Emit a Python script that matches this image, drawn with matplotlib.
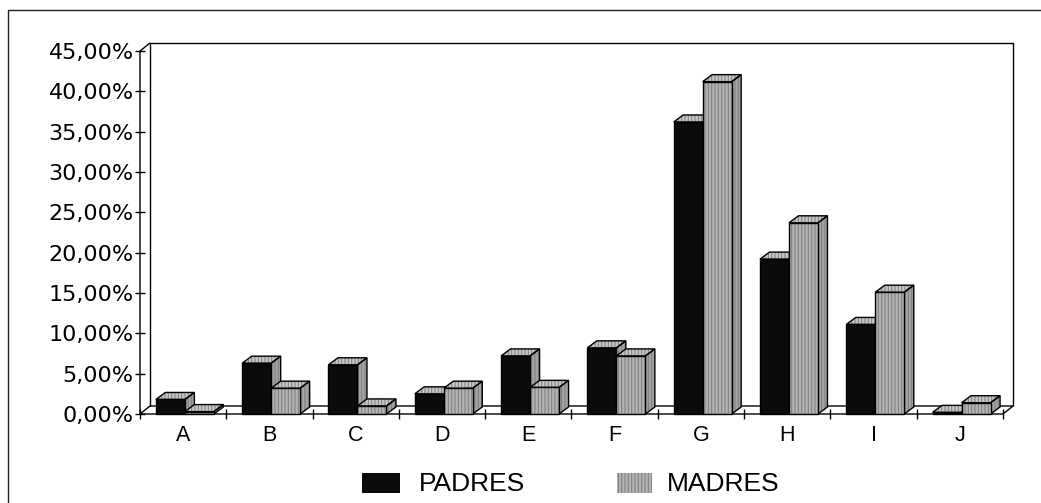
import matplotlib
matplotlib.use("Agg")
import matplotlib.pyplot as plt
from matplotlib.lines import Line2D
from matplotlib.patches import Rectangle

# ---- data ----
categories = ["A", "B", "C", "D", "E", "F", "G", "H", "I", "J"]
padres = [1.8, 6.3, 6.1, 2.5, 7.2, 8.2, 36.2, 19.2, 11.1, 0.2]
madres = [0.3, 3.2, 1.0, 3.2, 3.3, 7.2, 41.2, 23.7, 15.1, 1.4]
yticks = [0, 5, 10, 15, 20, 25, 30, 35, 40, 45]
ytick_labels = ["0,00%", "5,00%", "10,00%", "15,00%", "20,00%", "25,00%",
                "30,00%", "35,00%", "40,00%", "45,00%"]
series_names = ["PADRES", "MADRES"]

plt.rcParams["hatch.linewidth"] = 0.7

W, H = 1041, 503
fig = plt.figure(figsize=(W / 100, H / 100), dpi=100)

# geometry of the pseudo-3D frame (in data units)
DX = 100 / 863          # depth offset of the walls (categories)
DY = 8 * 45 / 363       # depth offset of the walls (%)
BDX = 0.11              # depth offset of bars
BDY = 0.87
BW = 0.336              # bar width
SHIFT = 0.02            # bars sit slightly right of the category centre

left_px, right_px, top_px, base_px = 140, 1013, 43, 414
ax = fig.add_axes([left_px / W, (H - base_px) / H,
                   (right_px - left_px) / W, (base_px - top_px) / H])
n = len(categories)
x0, x1 = -0.5, n - 0.5
ymax = yticks[-1]
ax.set_xlim(x0, x1 + DX)
ax.set_ylim(0, ymax + DY)
for s in ax.spines.values():
    s.set_visible(False)
ax.patch.set_visible(False)

LW = 1.0
kw = dict(color="black", lw=LW, clip_on=False, zorder=1, solid_capstyle="butt")
# back wall
ax.plot([x0 + DX, x0 + DX, x1 + DX, x1 + DX], [DY, ymax + DY, ymax + DY, DY], **kw)
# floor
ax.plot([x0, x1, x1 + DX, x0 + DX, x0], [0, 0, DY, DY, 0], **kw)
# front axis and connecting diagonal at top
ax.plot([x0, x0, x0 + DX], [0, ymax, ymax + DY], **kw)

# ticks
ax.set_yticks(yticks)
ax.set_yticklabels(ytick_labels, fontfamily="DejaVu Sans", fontsize=16)
ax.tick_params(axis="y", direction="inout", length=7, width=1, pad=1)
ax.set_xticks(range(n))
ax.set_xticklabels(categories, fontfamily="Liberation Sans", fontsize=15.5)
ax.set_xticks([i + 0.5 for i in range(-1, n)], minor=True)
ax.tick_params(axis="x", which="major", length=0, pad=8)
ax.tick_params(axis="x", which="minor", direction="inout", length=7, width=1)

BLACK = "#0b0b0b"
GRAY_FRONT = "#b3b3b3"
GRAY_TOP = "#c6c6c6"
GRAY_SIDE = "#a4a4a4"
HATCH_EC = "#7c7c7c"


def face(xs, ys, fc, hatch=None, z=2):
    ax.fill(xs, ys, facecolor=fc, edgecolor=HATCH_EC if hatch else fc,
            hatch=hatch, linewidth=0, zorder=z, clip_on=False)
    ax.fill(xs, ys, fill=False, edgecolor="black", linewidth=1.0,
            zorder=z + 0.1, clip_on=False)


def draw_3d(rect, front_fc, front_hatch, z):
    x, w, h = rect.get_x(), rect.get_width(), rect.get_height()
    # side
    face([x + w, x + w + BDX, x + w + BDX, x + w],
         [0, BDY, h + BDY, h], GRAY_SIDE, "|||||", z)
    # top
    face([x, x + BDX, x + w + BDX, x + w],
         [h, h + BDY, h + BDY, h], GRAY_TOP, "|||||", z)
    # front
    face([x, x + w, x + w, x], [0, 0, h, h], front_fc, front_hatch, z + 0.5)


xs = list(range(n))
bars_p = ax.bar([i - BW + SHIFT for i in xs], padres, width=BW, align="edge",
                color="none", edgecolor="none")
bars_m = ax.bar([i + SHIFT for i in xs], madres, width=BW, align="edge",
                color="none", edgecolor="none")
for i in range(n):
    draw_3d(bars_p[i], BLACK, None, 2 + i * 2)
    draw_3d(bars_m[i], GRAY_FRONT, "|||||", 3 + i * 2)

# legend (manual, figure coordinates)
leg_items = [(362, 400, BLACK, None, 419), (617, 652, GRAY_FRONT, "|||||", 667)]
for (xa, xb, fc, hatch, tx), name in zip(leg_items, series_names):
    r = Rectangle((xa / W, (H - 493) / H), (xb - xa) / W, 20 / H,
                  transform=fig.transFigure, facecolor=fc,
                  edgecolor=HATCH_EC if hatch else fc, hatch=hatch, linewidth=0)
    fig.add_artist(r)
    fig.text(tx / W, (H - 484) / H, name, fontfamily="Liberation Sans",
             fontsize=19, va="center", ha="left")

# outer frame (top and left)
fig.add_artist(Line2D([8 / W, 8 / W, 1.0], [0, (H - 10) / H, (H - 10) / H],
                      transform=fig.transFigure, color="#222222", lw=1.0))

fig.savefig("out.png", dpi=100)
